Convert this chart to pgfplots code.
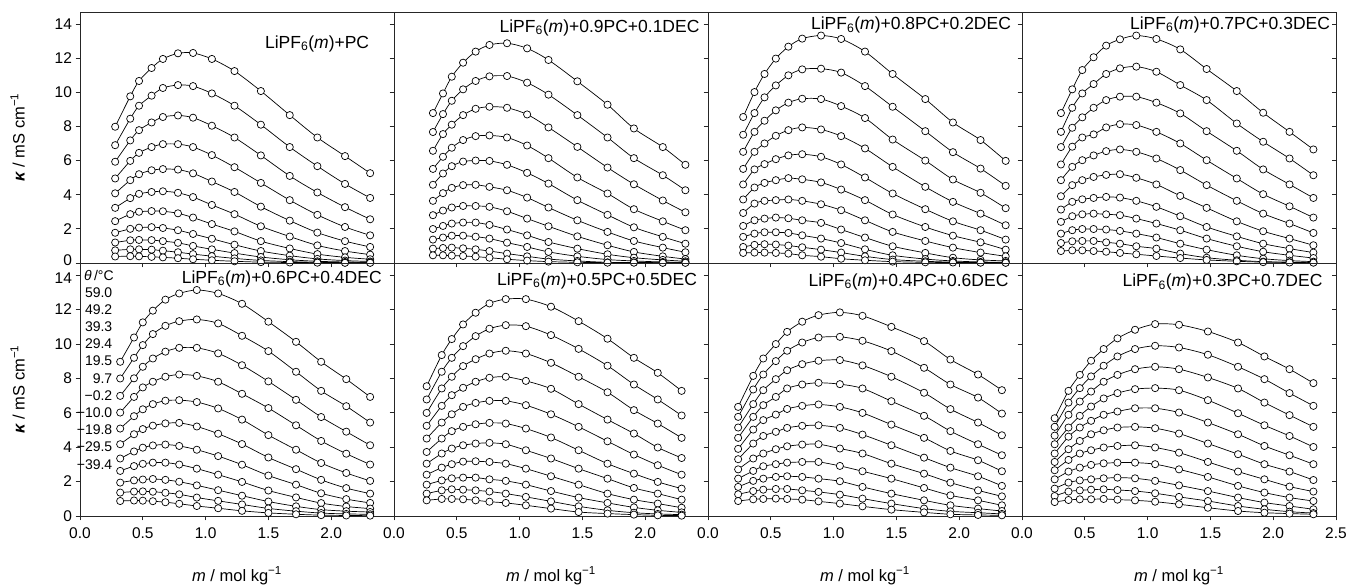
\documentclass[border=0pt]{standalone}
\usepackage{fontspec}
\setmainfont{Liberation Sans}
\usepackage{pgfplots}
\usepackage{pgfplotstable}
\pgfplotsset{compat=1.18}

\pgfplotstableread{
x c1 c2 c3 c4 c5 c6 c7 c8 c9 c10 c11
0.28 7.98 6.90 5.93 4.95 4.08 3.23 2.45 1.77 1.20 0.74 0.38
0.40 9.76 8.45 7.18 5.98 4.85 3.80 2.86 2.00 1.33 0.80 0.40
0.47 10.66 9.21 7.78 6.45 5.20 4.05 3.00 2.07 1.35 0.80 0.39
0.57 11.42 9.80 8.23 6.79 5.43 4.16 3.04 2.10 1.34 0.78 0.36
0.66 11.95 10.25 8.55 6.96 5.50 4.20 3.03 2.05 1.28 0.72 0.33
0.78 12.28 10.42 8.64 6.96 5.47 4.11 2.91 1.92 1.18 0.63 0.28
0.90 12.30 10.36 8.51 6.79 5.25 3.86 2.66 1.70 1.00 0.52 0.22
1.05 11.95 9.93 8.04 6.32 4.77 3.40 2.28 1.42 0.80 0.40 0.16
1.23 11.24 9.21 7.35 5.61 4.16 2.86 1.85 1.07 0.58 0.27 0.10
1.44 10.07 8.10 6.30 4.69 3.30 2.15 1.28 0.70 0.35 0.15 0.05
1.67 8.66 6.79 5.10 3.68 2.48 1.55 0.85 0.43 0.19 0.08 0.03
1.89 7.35 5.67 4.13 2.82 1.78 1.03 0.52 0.24 0.10 0.04 0.02
2.11 6.26 4.63 3.27 2.11 1.28 0.70 0.33 0.14 0.06 0.02 0.01
2.31 5.26 3.81 2.56 1.62 0.94 0.49 0.22 0.09 0.04 0.02 0.01
}\tA

\pgfplotstableread{
x c1 c2 c3 c4 c5 c6 c7 c8 c9 c10 c11
0.31 8.78 7.67 6.57 5.51 4.58 3.64 2.80 1.99 1.37 0.84 0.45
0.39 9.93 8.72 7.55 6.22 5.24 4.09 3.07 2.17 1.49 0.88 0.45
0.46 10.91 9.50 8.10 6.75 5.67 4.40 3.25 2.31 1.60 0.90 0.43
0.55 11.73 10.17 8.66 7.20 5.94 4.56 3.34 2.37 1.60 0.86 0.41
0.65 12.38 10.66 9.03 7.43 6.00 4.58 3.34 2.37 1.54 0.80 0.37
0.76 12.77 10.93 9.15 7.47 5.98 4.46 3.29 2.23 1.43 0.70 0.31
0.90 12.87 10.95 9.09 7.35 5.75 4.26 3.03 1.96 1.19 0.55 0.22
1.06 12.57 10.56 8.70 6.88 5.28 3.83 2.60 1.62 0.94 0.39 0.14
1.23 11.89 9.86 7.94 6.14 4.65 3.25 2.15 1.23 0.65 0.23 0.08
1.46 10.64 8.66 6.80 5.01 3.68 2.50 1.56 0.84 0.39 0.12 0.04
1.70 9.27 7.35 5.59 4.07 2.82 1.82 1.04 0.51 0.20 0.04 0.02
1.91 7.88 6.14 4.61 3.15 2.09 1.29 0.65 0.31 0.12 0.03 0.02
2.14 6.79 5.14 3.66 2.44 1.53 0.90 0.39 0.18 0.06 0.02 0.01
2.32 5.75 4.26 2.97 1.92 1.13 0.63 0.23 0.10 0.04 0.02 0.01
}\tB

\pgfplotstableread{
x c1 c2 c3 c4 c5 c6 c7 c8 c9 c10 c11
0.28 8.55 7.51 6.51 5.51 4.60 3.72 2.93 2.17 1.53 0.94 0.59
0.37 10.01 8.78 7.68 6.51 5.48 4.42 3.48 2.50 1.72 1.06 0.61
0.45 11.07 9.70 8.33 7.00 5.79 4.69 3.64 2.60 1.80 1.10 0.61
0.54 11.97 10.40 8.94 7.45 6.08 4.85 3.68 2.66 1.80 1.08 0.59
0.64 12.67 10.99 9.39 7.78 6.30 4.97 3.72 2.62 1.76 1.02 0.55
0.75 13.14 11.34 9.62 7.94 6.37 4.90 3.64 2.50 1.62 0.92 0.45
0.90 13.32 11.38 9.60 7.82 6.22 4.72 3.44 2.35 1.43 0.78 0.37
1.06 13.12 11.15 9.19 7.43 5.77 4.30 3.09 1.96 1.17 0.61 0.25
1.25 12.38 10.36 8.49 6.71 5.01 3.68 2.50 1.49 0.80 0.39 0.16
1.47 11.07 9.15 7.23 5.63 4.07 2.84 1.82 0.98 0.45 0.20 0.08
1.73 9.60 7.72 6.00 4.46 3.15 2.11 1.29 0.59 0.23 0.10 0.04
1.95 8.23 6.49 4.89 3.58 2.44 1.60 0.90 0.31 0.12 0.05 0.03
2.17 7.20 5.53 4.11 2.89 1.92 1.21 0.61 0.18 0.06 0.03 0.02
2.37 5.98 4.52 3.21 2.21 1.37 0.78 0.39 0.12 0.04 0.02 0.01
}\tC

\pgfplotstableread{
x c1 c2 c3 c4 c5 c6 c7 c8 c9 c10 c11
0.31 8.78 7.68 6.79 5.77 4.85 3.91 3.13 2.41 1.72 1.17 0.70
0.40 10.17 9.09 7.92 6.81 5.63 4.56 3.58 2.74 1.92 1.27 0.74
0.48 11.30 9.93 8.53 7.35 6.02 4.85 3.73 2.85 1.99 1.29 0.74
0.57 12.05 10.48 9.09 7.53 6.30 5.04 3.81 2.89 1.99 1.29 0.70
0.67 12.73 11.07 9.54 7.94 6.55 5.16 3.87 2.85 1.96 1.21 0.66
0.78 13.10 11.40 9.74 8.13 6.65 5.20 3.83 2.80 1.88 1.13 0.59
0.91 13.32 11.50 9.74 8.08 6.51 4.99 3.64 2.60 1.72 0.98 0.51
1.07 13.12 11.20 9.39 7.68 6.12 4.60 3.29 2.31 1.49 0.84 0.41
1.26 12.51 10.42 8.76 7.00 5.44 3.93 2.74 1.92 1.13 0.55 0.29
1.47 11.36 9.54 7.72 6.02 4.56 3.23 2.11 1.43 0.78 0.31 0.18
1.71 10.07 8.17 6.57 4.95 3.64 2.44 1.56 0.98 0.45 0.16 0.10
1.92 8.80 7.10 5.48 4.03 2.89 1.86 1.13 0.66 0.25 0.08 0.05
2.13 7.68 6.12 4.60 3.32 2.31 1.43 0.84 0.45 0.14 0.05 0.03
2.32 6.65 5.14 3.81 2.66 1.76 1.04 0.61 0.29 0.08 0.03 0.02
}\tD

\pgfplotstableread{
x c1 c2 c3 c4 c5 c6 c7 c8 c9 c10 c11
0.32 8.96 7.99 6.98 6.01 5.08 4.17 3.34 2.62 1.94 1.36 0.87
0.43 10.37 9.19 8.00 6.92 5.80 4.75 3.75 2.90 2.07 1.42 0.90
0.50 11.25 9.93 8.67 7.47 6.20 5.05 3.97 3.03 2.12 1.43 0.89
0.58 11.93 10.57 9.15 7.80 6.50 5.25 4.10 3.10 2.15 1.41 0.86
0.68 12.57 11.05 9.55 8.09 6.70 5.38 4.15 3.10 2.10 1.35 0.80
0.79 12.93 11.32 9.77 8.22 6.73 5.41 4.07 2.99 1.99 1.26 0.71
0.93 13.13 11.42 9.77 8.14 6.62 5.20 3.85 2.75 1.78 1.07 0.58
1.10 12.93 11.19 9.45 7.80 6.25 4.78 3.48 2.40 1.50 0.88 0.45
1.29 12.33 10.47 8.76 7.10 5.60 4.18 2.98 1.98 1.18 0.67 0.30
1.50 11.29 9.58 7.82 6.27 4.70 3.40 2.35 1.48 0.84 0.44 0.18
1.72 10.12 8.38 6.75 5.27 3.85 2.72 1.82 1.08 0.56 0.28 0.10
1.92 8.96 7.27 5.75 4.36 3.08 2.10 1.32 0.75 0.37 0.17 0.05
2.12 7.95 6.38 4.90 3.62 2.50 1.62 0.98 0.55 0.28 0.12 0.03
2.31 6.92 5.43 4.11 2.99 2.04 1.30 0.76 0.43 0.23 0.10 0.02
}\tE

\pgfplotstableread{
x c1 c2 c3 c4 c5 c6 c7 c8 c9 c10 c11
0.26 7.54 6.77 5.99 5.24 4.50 3.72 3.04 2.40 1.82 1.30 0.91
0.38 9.35 8.38 7.41 6.40 5.43 4.50 3.63 2.81 2.07 1.49 0.99
0.46 10.28 9.19 8.09 7.02 5.91 4.93 3.92 3.01 2.19 1.55 0.99
0.55 11.13 9.87 8.71 7.45 6.34 5.18 4.11 3.16 2.23 1.53 0.97
0.65 11.81 10.45 9.11 7.80 6.57 5.33 4.21 3.18 2.23 1.49 0.91
0.76 12.35 10.88 9.44 8.03 6.69 5.41 4.25 3.14 2.13 1.42 0.83
0.89 12.60 11.09 9.60 8.09 6.69 5.37 4.17 3.04 2.04 1.30 0.76
1.05 12.60 11.03 9.44 7.85 6.44 5.08 3.82 2.75 1.82 1.11 0.62
1.25 12.16 10.51 8.90 7.39 5.91 4.56 3.34 2.31 1.45 0.85 0.43
1.47 11.32 9.71 8.09 6.50 5.18 3.82 2.75 1.82 1.07 0.56 0.23
1.70 10.30 8.73 7.19 5.60 4.34 3.04 2.17 1.30 0.76 0.33 0.14
1.91 9.19 7.64 6.15 4.79 3.57 2.46 1.63 0.95 0.50 0.19 0.08
2.10 8.32 6.77 5.37 3.98 2.95 1.98 1.30 0.72 0.33 0.12 0.04
2.29 7.27 5.84 4.54 3.37 2.40 1.59 0.95 0.48 0.21 0.08 0.02
}\tF

\pgfplotstableread{
x c1 c2 c3 c4 c5 c6 c7 c8 c9 c10 c11
0.24 6.34 5.76 5.14 4.54 3.90 3.30 2.71 2.17 1.69 1.26 0.87
0.36 8.14 7.35 6.50 5.76 5.02 4.21 3.34 2.62 2.04 1.45 0.97
0.44 9.15 8.22 7.31 6.44 5.57 4.65 3.63 2.89 2.17 1.53 0.99
0.54 9.99 9.00 7.95 6.92 5.89 4.89 3.88 3.01 2.27 1.57 1.01
0.63 10.70 9.60 8.47 7.41 6.22 5.12 4.05 3.10 2.31 1.57 0.99
0.75 11.29 10.08 8.82 7.64 6.40 5.24 4.15 3.14 2.27 1.49 0.95
0.88 11.67 10.37 9.02 7.74 6.48 5.27 4.17 3.14 2.17 1.40 0.85
1.05 11.83 10.41 9.06 7.66 6.34 5.12 3.92 2.91 2.02 1.24 0.72
1.23 11.63 10.18 8.75 7.41 5.99 4.73 3.63 2.60 1.69 1.01 0.56
1.46 10.99 9.58 8.09 6.67 5.31 4.11 3.04 2.17 1.30 0.72 0.37
1.72 10.16 8.61 7.16 5.82 4.54 3.39 2.46 1.63 0.91 0.43 0.21
1.93 9.09 7.64 6.21 4.93 3.78 2.81 1.94 1.20 0.62 0.27 0.10
2.15 8.22 6.88 5.43 4.17 3.24 2.31 1.49 0.91 0.43 0.19 0.06
2.34 7.31 5.95 4.69 3.53 2.60 1.75 1.14 0.62 0.29 0.12 0.04
}\tG

\pgfplotstableread{
x c1 c2 c3 c4 c5 c6 c7 c8 c9 c10 c11
0.26 5.68 5.18 4.67 4.17 3.63 3.14 2.66 2.13 1.59 1.16 0.81
0.37 7.27 6.59 5.88 5.14 4.61 3.88 3.26 2.58 1.94 1.42 0.93
0.46 8.20 7.43 6.65 5.82 5.14 4.36 3.63 2.81 2.07 1.49 0.97
0.55 9.02 8.11 7.23 6.36 5.53 4.75 3.82 2.97 2.13 1.53 0.97
0.65 9.70 8.73 7.80 6.83 5.88 4.98 3.98 3.06 2.19 1.55 0.99
0.76 10.32 9.27 8.20 7.14 6.07 5.14 4.07 3.10 2.23 1.51 0.95
0.90 10.82 9.70 8.53 7.37 6.26 5.18 4.11 3.10 2.19 1.45 0.91
1.06 11.15 9.89 8.67 7.43 6.26 5.10 3.98 3.01 2.04 1.32 0.83
1.25 11.11 9.79 8.53 7.31 6.01 4.79 3.68 2.71 1.78 1.11 0.68
1.48 10.72 9.37 8.05 6.73 5.43 4.21 3.14 2.27 1.45 0.87 0.48
1.72 10.08 8.67 7.41 5.97 4.75 3.59 2.58 1.75 1.07 0.58 0.29
1.93 9.27 7.95 6.59 5.27 4.07 3.01 2.13 1.36 0.78 0.39 0.19
2.13 8.53 7.14 5.86 4.65 3.53 2.58 1.71 1.07 0.58 0.25 0.14
2.32 7.72 6.40 5.18 4.01 3.01 2.09 1.42 0.87 0.39 0.17 0.10
}\tH

\tikzset{
  ttl/.style={anchor=base east, font=\fontsize{17.5}{20}\selectfont},
  tl/.style={anchor=east, font=\fontsize{14}{16}\selectfont},
}

\pgfplotsset{
  panel/.style={
    scale only axis, width=314pt,
    xmin=0, xmax=2.5, ymin=0, ymax=14.7,
    xtick={0,0.5,1,1.5,2}, ytick={0,2,4,6,8,10,12,14},
    tick align=outside, xtick pos=bottom, ytick pos=left,
    major tick length=4.5pt,
    axis line style={black!85, line width=0.7pt},
    every tick/.style={black!85, line width=0.7pt},
    /pgf/number format/assume math mode=true,
    xticklabel style={font=\fontsize{15.5}{18}\selectfont, yshift=-4pt, /pgf/number format/.cd, fixed, fixed zerofill, precision=1, assume math mode=true},
    yticklabel style={font=\fontsize{15.5}{18}\selectfont, /pgf/number format/assume math mode=true},
    clip=false,
  },
  toprow/.style={height=251pt, xticklabels={}},
  botrow/.style={height=253pt,
    xlabel={\textit{m} / mol kg\textsuperscript{−1}},
    xlabel style={at={(axis description cs:0.5,-0.236)}, anchor=center, font=\fontsize{16.5}{19}\selectfont}},
  firstcol/.style={
    ylabel={\textbf{\textit{κ}} / mS cm\textsuperscript{−1}},
    ylabel style={at={(axis description cs:-0.199,0.5)}, anchor=center, font=\fontsize{16.5}{19}\selectfont}},
  othercol/.style={yticklabels={}},
  rightticks/.style={scale only axis, width=314pt, xmin=0, xmax=2.5, ymin=0, ymax=14.7,
    hide x axis, axis y line*=right, ytick={0,2,4,6,8,10,12,14}, yticklabels={},
    tick align=inside, major tick length=4.5pt,
    axis line style={black!85, line width=0.7pt},
    every tick/.style={black!85, line width=0.7pt}},
  curve/.style={black, line width=0.7pt, smooth, mark=*, mark size=3.6pt,
    mark options={fill=white, draw=black, line width=0.7pt}},
}

\begin{document}
\begin{tikzpicture}
\useasboundingbox (0,0) rectangle (1350pt,585pt);

% ---- top row ----
\begin{axis}[panel, toprow, firstcol, at={(80pt,322pt)}, anchor=south west,
  ytick={2,4,6,8,10,12,14}, extra y ticks={0},
  extra y tick style={yticklabel style={yshift=3pt}}]
\pgfplotsinvokeforeach{1,...,11}{\addplot[curve] table[x=x,y=c#1]{\tA};}
\node[ttl] at (axis cs:2.33,12.58) {LiPF\textsubscript{6}(\textit{m})+PC};
\end{axis}

\begin{axis}[panel, toprow, othercol, at={(394pt,322pt)}, anchor=south west]
\pgfplotsinvokeforeach{1,...,11}{\addplot[curve] table[x=x,y=c#1]{\tB};}
\node[ttl] at (axis cs:2.46,13.51) {LiPF\textsubscript{6}(\textit{m})+0.9PC+0.1DEC};
\end{axis}

\begin{axis}[panel, toprow, othercol, at={(708pt,322pt)}, anchor=south west]
\pgfplotsinvokeforeach{1,...,11}{\addplot[curve] table[x=x,y=c#1]{\tC};}
\node[ttl] at (axis cs:2.44,13.65) {LiPF\textsubscript{6}(\textit{m})+0.8PC+0.2DEC};
\end{axis}

\begin{axis}[panel, toprow, othercol, at={(1022pt,322pt)}, anchor=south west]
\pgfplotsinvokeforeach{1,...,11}{\addplot[curve] table[x=x,y=c#1]{\tD};}
\node[ttl] at (axis cs:2.48,13.69) {LiPF\textsubscript{6}(\textit{m})+0.7PC+0.3DEC};
\end{axis}
\begin{axis}[rightticks, height=251pt, at={(1022pt,322pt)}, anchor=south west]
\end{axis}

% ---- bottom row ----
\begin{axis}[panel, botrow, firstcol, at={(80pt,69pt)}, anchor=south west,
  ytick={0,2,4,6,8,10,12}, extra y ticks={14},
  extra y tick style={yticklabel style={yshift=-3pt}}]
\pgfplotsinvokeforeach{1,...,11}{\addplot[curve] table[x=x,y=c#1]{\tE};}
\node[ttl] at (axis cs:2.43,13.52) {LiPF\textsubscript{6}(\textit{m})+0.6PC+0.4DEC};
\node[anchor=west, font=\fontsize{14}{16}\selectfont] at (axis cs:0.005,14.0) {\textit{θ}\,/°C};
\node[tl] at (axis cs:0.285,13) {59.0};
\node[tl] at (axis cs:0.285,12) {49.2};
\node[tl] at (axis cs:0.285,11) {39.3};
\node[tl] at (axis cs:0.285,10) {29.4};
\node[tl] at (axis cs:0.285,9) {19.5};
\node[tl] at (axis cs:0.285,8) {9.7};
\node[tl] at (axis cs:0.285,7) {−0.2};
\node[tl] at (axis cs:0.285,6) {−10.0};
\node[tl] at (axis cs:0.285,5) {−19.8};
\node[tl] at (axis cs:0.285,4) {−29.5};
\node[tl] at (axis cs:0.285,3) {−39.4};
\end{axis}

\begin{axis}[panel, botrow, othercol, at={(394pt,69pt)}, anchor=south west]
\pgfplotsinvokeforeach{1,...,11}{\addplot[curve] table[x=x,y=c#1]{\tF};}
\node[ttl] at (axis cs:2.44,13.42) {LiPF\textsubscript{6}(\textit{m})+0.5PC+0.5DEC};
\end{axis}

\begin{axis}[panel, botrow, othercol, at={(708pt,69pt)}, anchor=south west]
\pgfplotsinvokeforeach{1,...,11}{\addplot[curve] table[x=x,y=c#1]{\tG};}
\node[ttl] at (axis cs:2.42,13.36) {LiPF\textsubscript{6}(\textit{m})+0.4PC+0.6DEC};
\end{axis}

\begin{axis}[panel, botrow, othercol, xtick={0,0.5,1,1.5,2,2.5}, at={(1022pt,69pt)}, anchor=south west]
\pgfplotsinvokeforeach{1,...,11}{\addplot[curve] table[x=x,y=c#1]{\tH};}
\node[ttl] at (axis cs:2.42,13.34) {LiPF\textsubscript{6}(\textit{m})+0.3PC+0.7DEC};
\end{axis}
\begin{axis}[rightticks, height=253pt, at={(1022pt,69pt)}, anchor=south west]
\end{axis}
\end{tikzpicture}
\end{document}
